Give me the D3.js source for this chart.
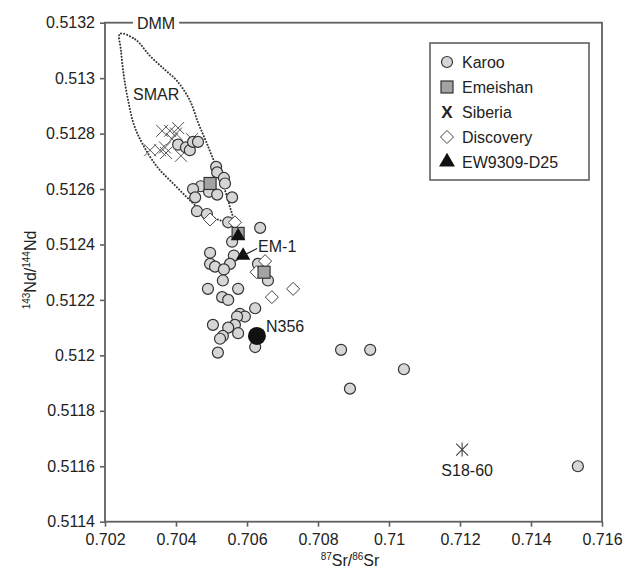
<!DOCTYPE html>
<html lang="en">
<head>
<meta charset="UTF-8">
<title>Sr-Nd isotopes</title>
<script src="https://d3js.org/d3.v7.min.js"></script>
<style>
  body { margin: 0; background: #fff; }
  svg text { font-family: "Liberation Sans", Arial, sans-serif; fill: #222; }
  .axis path, .axis line { stroke: #606060; stroke-width: 1.6; }
  .axis text { font-size: 16px; fill: #222; }
</style>
</head>
<body>
<script>
// ---- data (87Sr/86Sr , 143Nd/144Nd) ----
const karooSr = [0.70406, 0.70428, 0.70439, 0.70448, 0.70462, 0.70513, 0.70516, 0.70535, 0.70538, 0.70470,
  0.70448, 0.70493, 0.70516, 0.70454, 0.70459, 0.70487, 0.70558, 0.70547, 0.70637, 0.70558,
  0.70496, 0.70563, 0.70496, 0.70510, 0.70552, 0.70535, 0.70631, 0.70659, 0.70532, 0.70490,
  0.70530, 0.70547, 0.70575, 0.70623, 0.70580, 0.70594, 0.70572, 0.70504, 0.70566, 0.70547,
  0.70532, 0.70524, 0.70575, 0.70518, 0.70623, 0.70865, 0.70947, 0.71042, 0.70890, 0.71532];
const karooNd = [0.51276, 0.51275, 0.51274, 0.51277, 0.51277, 0.51268, 0.51266, 0.51264, 0.51262, 0.51261,
  0.51260, 0.51259, 0.51258, 0.51257, 0.51252, 0.51251, 0.51257, 0.51248, 0.51246, 0.51241,
  0.51237, 0.51236, 0.51233, 0.51232, 0.51233, 0.51231, 0.51233, 0.51227, 0.51227, 0.51224,
  0.51221, 0.51220, 0.51224, 0.51217, 0.51215, 0.51214, 0.51214, 0.51211, 0.51211, 0.51210,
  0.51207, 0.51206, 0.51208, 0.51201, 0.51203, 0.51202, 0.51202, 0.51195, 0.51188, 0.51160];

const emeishanSr = [0.70496, 0.70575, 0.70648];
const emeishanNd = [0.51262, 0.51244, 0.51230];

const siberiaSr = [0.70327, 0.70361, 0.70369, 0.70383, 0.70389, 0.70400, 0.70406, 0.70372, 0.70414, 0.70445, 0.70355];
const siberiaNd = [0.51274, 0.51281, 0.51275, 0.51281, 0.51278, 0.51280, 0.51282, 0.51273, 0.51272, 0.51278, 0.51274];

const discoverySr = [0.70496, 0.70566, 0.70651, 0.70627, 0.70670, 0.70730];
const discoveryNd = [0.51249, 0.51248, 0.51234, 0.51230, 0.51221, 0.51224];

const ewSr = [0.70575, 0.70589];
const ewNd = [0.51243, 0.51236];

const n356 = [0.70628, 0.51207];
const s1860 = [0.71206, 0.51166];

// DMM / SMAR field outline
const dmmSr = [0.70242, 0.70285, 0.70327, 0.70369, 0.70403, 0.70439, 0.70462, 0.70482, 0.70501, 0.70524,
  0.70544, 0.70558, 0.70572, 0.70583, 0.70558, 0.70518, 0.70482, 0.70439, 0.70392, 0.70347,
  0.70307, 0.70282, 0.70265, 0.70253, 0.70245];
const dmmNd = [0.51316, 0.51314, 0.51308, 0.51303, 0.51299, 0.51292, 0.51284, 0.51278, 0.51272, 0.51265,
  0.51257, 0.51251, 0.51246, 0.51243, 0.51247, 0.51249, 0.51251, 0.51256, 0.51262, 0.51268,
  0.51276, 0.51283, 0.51292, 0.51301, 0.51310];

const srTicks = [0.702, 0.704, 0.706, 0.708, 0.710, 0.712, 0.714, 0.716];
const ndTicks = [0.5114, 0.5116, 0.5118, 0.5120, 0.5122, 0.5124, 0.5126, 0.5128, 0.5130, 0.5132];
const legendNames = ["Karoo", "Emeishan", "Siberia", "Discovery", "EW9309-D25"];

// ---- layout ----
const W = 628, H = 571;
const pLeft = 105, pRight = 602, pTop = 22.7, pBottom = 521.7;

const svg = d3.select("body").append("svg").attr("width", W).attr("height", H);

const x = d3.scaleLinear().domain([0.702, 0.716]).range([pLeft, pRight]);
const y = d3.scaleLinear().domain([0.5114, 0.5132]).range([pBottom, pTop]);

const zip = (a, b) => a.map((v, i) => [v, b[i]]);

// DMM field (dotted)
svg.append("path")
  .datum(zip(dmmSr, dmmNd))
  .attr("d", d3.line().x(d => x(d[0])).y(d => y(d[1])).curve(d3.curveCatmullRomClosed.alpha(0.5)))
  .attr("fill", "none")
  .attr("stroke", "#333")
  .attr("stroke-width", 2)
  .attr("stroke-dasharray", "0.1 3")
  .attr("stroke-linecap", "round");

// Siberia crosses
const cr = 6;
svg.append("g").selectAll("path")
  .data(zip(siberiaSr, siberiaNd))
  .join("path")
  .attr("transform", d => `translate(${x(d[0])},${y(d[1])})`)
  .attr("d", `M${-cr},${-cr}L${cr},${cr}M${-cr},${cr}L${cr},${-cr}`)
  .attr("stroke", "#555").attr("stroke-width", 1).attr("fill", "none");

// Karoo circles
svg.append("g").selectAll("circle")
  .data(zip(karooSr, karooNd))
  .join("circle")
  .attr("cx", d => x(d[0])).attr("cy", d => y(d[1])).attr("r", 5.5)
  .attr("fill", "#d6d6d6").attr("stroke", "#333").attr("stroke-width", 1.2);

// Discovery diamonds
const dm = 6.5;
svg.append("g").selectAll("path")
  .data(zip(discoverySr, discoveryNd))
  .join("path")
  .attr("transform", d => `translate(${x(d[0])},${y(d[1])})`)
  .attr("d", `M0,${-dm}L${dm},0L0,${dm}L${-dm},0Z`)
  .attr("fill", "#fff").attr("stroke", "#444").attr("stroke-width", 1);

// Emeishan squares
svg.append("g").selectAll("rect")
  .data(zip(emeishanSr, emeishanNd))
  .join("rect")
  .attr("x", d => x(d[0]) - 6).attr("y", d => y(d[1]) - 6)
  .attr("width", 12).attr("height", 12)
  .attr("fill", "#a3a3a3").attr("stroke", "#333").attr("stroke-width", 1.2);

// EW9309-D25 triangles
const tri = d3.symbol().type(d3.symbolTriangle).size(90);
svg.append("g").selectAll("path")
  .data(zip(ewSr, ewNd))
  .join("path")
  .attr("transform", d => `translate(${x(d[0])},${y(d[1])})`)
  .attr("d", tri)
  .attr("fill", "#111");

// EM-1 pointer + label
const em = [x(ewSr[1]), y(ewNd[1])];
svg.append("line")
  .attr("x1", em[0]).attr("y1", em[1])
  .attr("x2", em[0] + 14).attr("y2", em[1] - 7)
  .attr("stroke", "#222").attr("stroke-width", 1.2);
svg.append("text").attr("x", em[0] + 15).attr("y", em[1] - 4)
  .attr("font-size", 16).text("EM-1");

// N356
svg.append("circle")
  .attr("cx", x(n356[0])).attr("cy", y(n356[1])).attr("r", 9)
  .attr("fill", "#111");
svg.append("text").attr("x", x(n356[0]) + 9).attr("y", y(n356[1]) - 4)
  .attr("font-size", 16).text("N356");

// S18-60 asterisk
const sx = x(s1860[0]), sy = y(s1860[1]);
svg.append("path")
  .attr("transform", `translate(${sx},${sy})`)
  .attr("d", "M-6,-6L6,6M-6,6L6,-6M0,-7L0,7")
  .attr("stroke", "#444").attr("stroke-width", 1.1);
svg.append("text").attr("x", sx + 5).attr("y", sy + 26)
  .attr("text-anchor", "middle").attr("font-size", 16).text("S18-60");

// SMAR label
svg.append("text").attr("x", x(0.70279)).attr("y", y(0.51292))
  .attr("font-size", 16).text("SMAR");

// axes
svg.append("g").attr("class", "axis")
  .attr("transform", `translate(0,${pBottom})`)
  .call(d3.axisBottom(x).tickValues(srTicks).tickSize(5).tickPadding(7)
    .tickFormat(d => String(+d.toFixed(3))))
  .call(g => g.select(".domain").remove());

svg.append("g").attr("class", "axis")
  .attr("transform", `translate(${pLeft},0)`)
  .call(d3.axisLeft(y).tickValues(ndTicks).tickSize(5).tickPadding(5)
    .tickFormat(d => String(+d.toFixed(4))))
  .call(g => g.select(".domain").remove());

// frame
svg.append("rect")
  .attr("x", pLeft).attr("y", pTop).attr("width", pRight - pLeft).attr("height", pBottom - pTop)
  .attr("fill", "none").attr("stroke", "#606060").attr("stroke-width", 1.8);

// DMM label breaking the top border
const dmmLabel = svg.append("text").attr("x", x(0.7029)).attr("y", pTop + 6)
  .attr("font-size", 16).text("DMM");
const bb = dmmLabel.node().getBBox();
svg.append("rect")
  .attr("x", bb.x - 4).attr("y", pTop - 3).attr("width", bb.width + 8).attr("height", 6)
  .attr("fill", "#fff");
dmmLabel.raise();

// axis titles
const xt = svg.append("text").attr("x", 350).attr("y", 566)
  .attr("text-anchor", "middle").attr("font-size", 16);
xt.append("tspan").attr("font-size", 10).attr("dy", -6).text("87");
xt.append("tspan").attr("dy", 6).text("Sr/");
xt.append("tspan").attr("font-size", 10).attr("dy", -6).text("86");
xt.append("tspan").attr("dy", 6).text("Sr");

const yt = svg.append("text")
  .attr("transform", "translate(36,270) rotate(-90)")
  .attr("text-anchor", "middle").attr("font-size", 16);
yt.append("tspan").attr("font-size", 10).attr("dy", -6).text("143");
yt.append("tspan").attr("dy", 6).text("Nd/");
yt.append("tspan").attr("font-size", 10).attr("dy", -6).text("144");
yt.append("tspan").attr("dy", 6).text("Nd");

// legend
const lg = svg.append("g");
lg.append("rect").attr("x", 430).attr("y", 43).attr("width", 159).attr("height", 137)
  .attr("fill", "#fff").attr("stroke", "#606060").attr("stroke-width", 1.6);
const ly = d3.scalePoint().domain(legendNames).range([62, 162]);
const lx = 447;
lg.append("circle").attr("cx", lx).attr("cy", ly("Karoo")).attr("r", 5.5)
  .attr("fill", "#d6d6d6").attr("stroke", "#333").attr("stroke-width", 1.2);
lg.append("rect").attr("x", lx - 6).attr("y", ly("Emeishan") - 6).attr("width", 12).attr("height", 12)
  .attr("fill", "#a3a3a3").attr("stroke", "#333").attr("stroke-width", 1.2);
lg.append("text").attr("x", lx).attr("y", ly("Siberia") + 6).attr("text-anchor", "middle")
  .attr("font-size", 17).attr("font-weight", "bold").text("X");
lg.append("path").attr("transform", `translate(${lx},${ly("Discovery")})`)
  .attr("d", `M0,${-dm}L${dm},0L0,${dm}L${-dm},0Z`)
  .attr("fill", "#fff").attr("stroke", "#444").attr("stroke-width", 1);
lg.append("path").attr("transform", `translate(${lx},${ly("EW9309-D25")})`)
  .attr("d", d3.symbol().type(d3.symbolTriangle).size(110)).attr("fill", "#111");
lg.selectAll("text.lab").data(legendNames).join("text").attr("class", "lab")
  .attr("x", 462).attr("y", d => ly(d) + 6).attr("font-size", 16).text(d => d);
</script>
</body>
</html>
